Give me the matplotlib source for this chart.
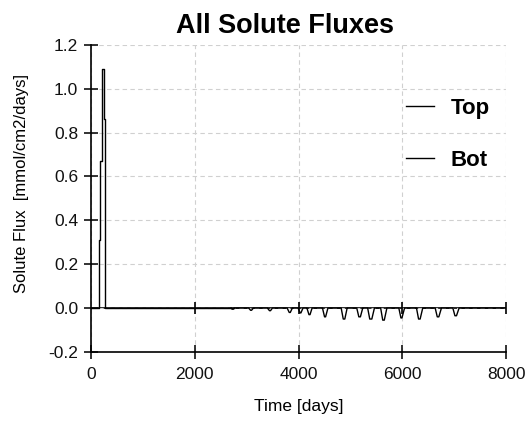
import numpy as np
import matplotlib
matplotlib.use("Agg")
import matplotlib.pyplot as plt

plt.rcParams['font.family'] = ['Liberation Sans', 'DejaVu Sans']

# data
top_days = [0, 150, 185, 222, 248, 280, 2750]
top_flux = [0.0, 0.31, 0.67, 1.09, 0.86, 0.0, 0.0]

bot_days = [2700, 2720, 2745, 2760,
            3040, 3075, 3095, 3130,
            3400, 3440, 3460, 3495,
            3780, 3820, 3840, 3880,
            3990, 4030, 4045, 4085,
            4160, 4200, 4220, 4260,
            4460, 4500, 4520, 4565,
            4820, 4860, 4890, 4935,
            5120, 5160, 5190, 5235,
            5330, 5370, 5410, 5460,
            5580, 5620, 5650, 5700,
            5930, 5970, 5990, 6040,
            6270, 6310, 6340, 6390,
            6630, 6670, 6700, 6750,
            6970, 7010, 7040, 7090,
            7160, 8000]
bot_flux = [0.0, -0.005, -0.005, 0.0,
            0.0, -0.01, -0.01, 0.0,
            0.0, -0.012, -0.012, 0.0,
            0.0, -0.02, -0.02, 0.0,
            0.0, -0.022, -0.022, 0.0,
            0.0, -0.03, -0.03, 0.0,
            0.0, -0.04, -0.04, 0.0,
            0.0, -0.05, -0.05, 0.0,
            0.0, -0.04, -0.04, 0.0,
            0.0, -0.05, -0.05, 0.0,
            0.0, -0.055, -0.055, 0.0,
            0.0, -0.045, -0.045, 0.0,
            0.0, -0.05, -0.05, 0.0,
            0.0, -0.04, -0.04, 0.0,
            0.0, -0.035, -0.035, 0.0,
            0.0, 0.0]

xticks = [0, 2000, 4000, 6000, 8000]
yticks = [-0.2, 0.0, 0.2, 0.4, 0.6, 0.8, 1.0, 1.2]

fig = plt.figure(figsize=(5.28, 4.23), dpi=100)
ax = fig.add_axes([0.172, 0.168, 0.787, 0.726])

ax.plot(top_days, top_flux, color='black', lw=1.0, drawstyle='steps-post', label='Top')
ax.plot(bot_days, bot_flux, color='black', lw=1.0, label='Bot')

# zero axis with its own tick marks
ax.axhline(0, color='black', lw=1.2, zorder=1)
ax.plot(xticks[1:], [0] * (len(xticks) - 1), ls='none', marker='|', ms=9, mew=1.2, color='black')

ax.set_xlim(0, 8000)
ax.set_ylim(-0.2, 1.2)
ax.set_xticks(xticks)
ax.set_yticks(yticks)
ax.set_yticklabels(['%.1f' % v for v in yticks])

ax.grid(True, ls=(0, (4, 3)), color='#d0d0d0', lw=0.8)
ax.spines['top'].set_visible(False)
ax.spines['right'].set_visible(False)
ax.spines['left'].set_linewidth(1.2)
ax.spines['bottom'].set_linewidth(1.2)
ax.tick_params(direction='inout', length=10, width=1.2, colors='#111111', labelsize=12.5)
ax.tick_params(axis='x', pad=6)
ax.tick_params(axis='y', pad=4)

fig.text(285 / 528, 1 - 26 / 423, 'All Solute Fluxes', fontsize=19.5, fontweight='bold',
         ha='center', va='center')
ax.set_xlabel('Time [days]', fontsize=12.5, labelpad=12)
ax.set_ylabel('Solute Flux  [mmol/cm2/days]', fontsize=12, labelpad=14, y=0.547)

leg = ax.legend(loc='upper left', bbox_to_anchor=(406 / 528, 1 - 98 / 423),
                bbox_transform=fig.transFigure, frameon=False, borderpad=0,
                borderaxespad=0, prop={'weight': 'bold', 'size': 16},
                handlelength=1.25, labelspacing=1.4, handletextpad=0.75)

fig.savefig('out.png', dpi=100, facecolor='white')
